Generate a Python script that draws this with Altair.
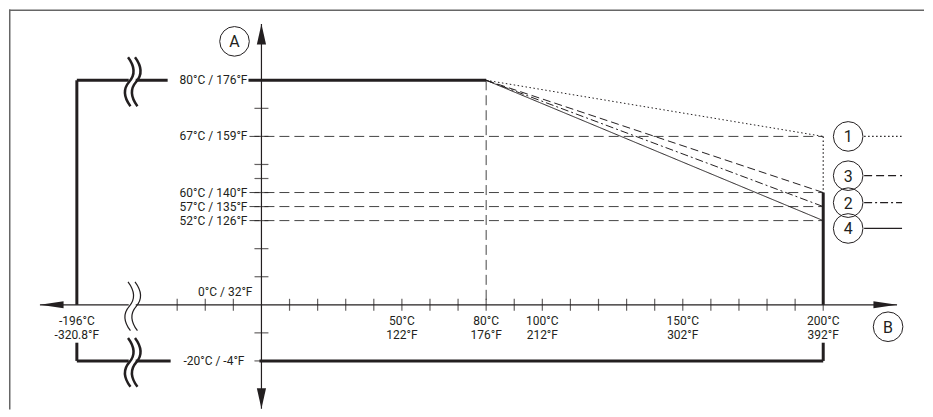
import altair as alt
import pandas as pd

# ---------------- values ----------------
# x axis: process temperature (°C); the axis is broken between -196 °C and 0 °C
x_label_values = [-196, 50, 80, 100, 150, 200]
x_label_c = ["-196°C", "50°C", "80°C", "100°C", "150°C", "200°C"]
x_label_f = ["-320.8°F", "122°F", "176°F", "212°F", "302°F", "392°F"]
x_minor_ticks = [-30, -20, -10, 10, 20, 30, 40, 50, 60, 70, 80, 90, 100, 110,
                 120, 130, 140, 150, 160, 170, 180, 190, 200]

# y axis: ambient temperature, schematic (not to scale) levels
y_label_values = [80, 67, 60, 57, 52]
y_label_text = ["80°C / 176°F", "67°C / 159°F", "60°C / 140°F", "57°C / 135°F", "52°C / 126°F"]
y_levels = [8, 6, 4, 3.5, 3]
y_zero_text = "0°C / 32°F"
y_min_text = "-20°C / -4°F"
y_min_level = -2
y_minor_ticks = [8, 7, 6, 5, 4.5, 4, 3.5, 3, 2, 1, -1, -2]

# derating curves: start at 80 °C / 80 °C, end at 200 °C process temperature
curve_ids = ["1", "3", "2", "4"]
curve_end_levels = [6, 4, 3.5, 3]          # 67, 60, 57, 52 °C ambient
curve_start = (80, 8)
curve_end_x = 200
legend_levels = [6.0, 4.6, 3.64, 2.72]

# ---------------- drawing set-up ----------------
W, H = 917, 401
K = 2.815                      # px per °C on x
XMIN, XMAX = -253 / K, 664 / K
U = 28.125                     # px per level on y
YMIN, YMAX = -105 / U, 296 / U
XS = alt.Scale(domain=[XMIN, XMAX], nice=False, zero=False)
YS = alt.Scale(domain=[YMIN, YMAX], nice=False, zero=False)
XLOW = -185 / K                # drawing position of -196 °C on the broken axis
BRK_L, BRK_R = -133 / K, -126 / K
INK = "#231f20"
FONT = "Roboto"


def xpos(v):
    return XLOW if v == -196 else v


def seg_df(rows):
    return pd.DataFrame(rows, columns=["x", "y", "x2", "y2"])


def rules(df, **kw):
    return alt.Chart(df).mark_rule(**kw).encode(
        x=alt.X("x:Q", scale=XS, axis=None),
        y=alt.Y("y:Q", scale=YS, axis=None),
        x2="x2:Q", y2="y2:Q")


lbl_gap_top = (-94 / K, -13 / K)
lbl_gap_bot = (-91 / K, -2 / K)
gap_v = -38 / U

thick = seg_df([
    [XLOW, 8, BRK_L, 8], [BRK_R, 8, lbl_gap_top[0], 8], [lbl_gap_top[1], 8, curve_start[0], 8],
    [XLOW, y_min_level, BRK_L, y_min_level], [BRK_R, y_min_level, lbl_gap_bot[0], y_min_level],
    [lbl_gap_bot[1], y_min_level, curve_end_x, y_min_level],
    [XLOW, 8, XLOW, 0], [XLOW, gap_v, XLOW, y_min_level],
    [curve_end_x, 4, curve_end_x, 0], [curve_end_x, gap_v, curve_end_x, y_min_level],
])

axes = seg_df([
    [-222 / K, 0, BRK_L, 0], [BRK_R, 0, 637 / K, 0],
    [0, 281.3 / U, 0, -3.70],
])

guides = seg_df([[-12 / K, lv, curve_end_x, lv] for lv in curve_end_levels]
                + [[curve_start[0], 8, curve_start[0], 0]])

dashes = {"1": [1.5, 2.5], "3": [8, 4], "2": [8, 3, 2, 3], "4": [1, 0]}
layers = []

# frame (top and left edges)
layers.append(alt.Chart(pd.DataFrame({"a": [0]})).mark_rule(color="#666", strokeWidth=1.5)
              .encode(x=alt.value(0.75), y=alt.value(0), y2=alt.value(H)))
layers.append(alt.Chart(pd.DataFrame({"a": [0]})).mark_rule(color="#666", strokeWidth=1.5)
              .encode(y=alt.value(0.75), x=alt.value(0), x2=alt.value(W)))

layers.append(rules(guides, color="#444", strokeWidth=1, strokeDash=[10, 5]))
for cid, lv in zip(curve_ids, curve_end_levels):
    d = seg_df([[curve_start[0], curve_start[1], curve_end_x, lv]])
    layers.append(rules(d, color=INK, strokeWidth=1, strokeDash=dashes[cid]))
layers.append(rules(seg_df([[curve_end_x, 6, curve_end_x, 4]]), color=INK, strokeWidth=1.2,
                    strokeDash=[1.5, 2.5]))
layers.append(rules(axes, color=INK, strokeWidth=1.2))
layers.append(rules(thick, color=INK, strokeWidth=3))

# ticks
tx = pd.DataFrame({"x": x_minor_ticks, "y": 0})
layers.append(alt.Chart(tx).mark_tick(orient="vertical", size=12, thickness=1.2, color=INK)
              .encode(x=alt.X("x:Q", scale=XS, axis=None), y=alt.Y("y:Q", scale=YS, axis=None)))
ty = pd.DataFrame({"x": 0, "y": y_minor_ticks})
layers.append(alt.Chart(ty).mark_tick(orient="horizontal", size=14, thickness=1.2, color=INK)
              .encode(x=alt.X("x:Q", scale=XS, axis=None), y=alt.Y("y:Q", scale=YS, axis=None)))

# arrow heads
arrows = [
    ("M0,0L0.45,2L-0.45,2Z", 420, 0, 281.3 / U),
    ("M0,0L0.45,-2L-0.45,-2Z", 420, 0, -3.70),
    ("M0,0L-2,0.3L-2,-0.3Z", 560, 637 / K, 0),
    ("M0,0L2,0.3L2,-0.3Z", 560, -222 / K, 0),
]
for shp, sz, ax_, ay_ in arrows:
    layers.append(alt.Chart(pd.DataFrame({"x": [ax_], "y": [ay_]}))
                  .mark_point(shape=shp, size=sz, filled=True, color=INK, opacity=1, strokeWidth=0)
                  .encode(x=alt.X("x:Q", scale=XS, axis=None), y=alt.Y("y:Q", scale=YS, axis=None)))

# axis break symbols
brk = "M-0.05,-1C0.25,-0.6 0.22,-0.25 0,0C-0.22,0.25 -0.25,0.6 0.05,1"
for lv, sw in [(8, 2.5), (y_min_level, 2.5), (0, 1.2)]:
    d = pd.DataFrame({"x": [-132.5 / K, -125.5 / K], "y": [lv - 1.5 / U] * 2})
    layers.append(alt.Chart(d).mark_point(shape=brk, size=2400, filled=False, color=INK,
                                          strokeWidth=sw, opacity=1)
                  .encode(x=alt.X("x:Q", scale=XS, axis=None), y=alt.Y("y:Q", scale=YS, axis=None)))

# y labels
yl = pd.DataFrame({"x": 0, "y": y_levels, "t": y_label_text})
layers.append(alt.Chart(yl).mark_text(align="right", baseline="middle", dx=-14, font=FONT,
                                      fontSize=12, color=INK)
              .encode(x=alt.X("x:Q", scale=XS, axis=None), y=alt.Y("y:Q", scale=YS, axis=None), text="t:N"))
layers.append(alt.Chart(pd.DataFrame({"x": [0], "y": [0], "t": [y_zero_text]}))
              .mark_text(align="right", baseline="middle", dx=-9, dy=-13, font=FONT, fontSize=12, color=INK)
              .encode(x=alt.X("x:Q", scale=XS, axis=None), y=alt.Y("y:Q", scale=YS, axis=None), text="t:N"))
layers.append(alt.Chart(pd.DataFrame({"x": [0], "y": [y_min_level], "t": [y_min_text]}))
              .mark_text(align="right", baseline="middle", dx=-17, font=FONT, fontSize=12, color=INK)
              .encode(x=alt.X("x:Q", scale=XS, axis=None), y=alt.Y("y:Q", scale=YS, axis=None), text="t:N"))

# x labels (two lines)
xl = pd.DataFrame({"x": [xpos(v) for v in x_label_values], "y": 0,
                   "c": x_label_c, "f": x_label_f})
for col, dy in [("c", 16), ("f", 30)]:
    layers.append(alt.Chart(xl).mark_text(align="center", baseline="middle", dy=dy, font=FONT,
                                          fontSize=12, color=INK)
                  .encode(x=alt.X("x:Q", scale=XS, axis=None), y=alt.Y("y:Q", scale=YS, axis=None),
                          text=f"{col}:N"))

# circled markers: A, B and legend numbers
circ = pd.DataFrame({
    "x": [-27 / K, 628 / K] + [588 / K] * 4,
    "y": [264 / U, -22 / U] + legend_levels,
    "t": ["A", "B"] + curve_ids,
})
layers.append(alt.Chart(circ).mark_point(shape="circle", size=880, filled=False, color=INK,
                                         strokeWidth=1, opacity=1)
              .encode(x=alt.X("x:Q", scale=XS, axis=None), y=alt.Y("y:Q", scale=YS, axis=None)))
layers.append(alt.Chart(circ).mark_text(align="center", baseline="middle", dy=1, font=FONT,
                                        fontSize=16, color=INK)
              .encode(x=alt.X("x:Q", scale=XS, axis=None), y=alt.Y("y:Q", scale=YS, axis=None), text="t:N"))

# legend line samples
for cid, lv in zip(curve_ids, legend_levels):
    d = seg_df([[604 / K, lv, 642 / K, lv]])
    layers.append(rules(d, color=INK, strokeWidth=1.2, strokeDash=dashes[cid]))

chart = alt.layer(*layers).properties(width=W, height=H, padding=0).configure_view(stroke=None)
chart.save("out.html", embed_options={"renderer": "svg", "actions": False})
